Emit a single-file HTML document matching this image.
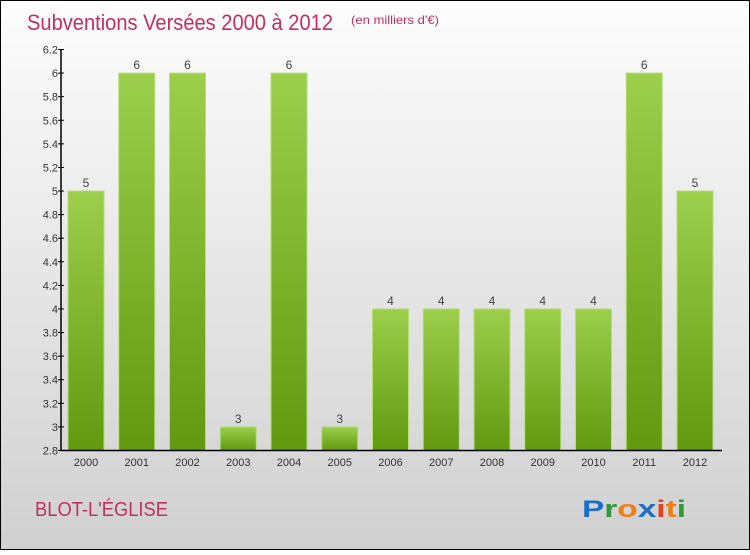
<!DOCTYPE html>
<html><head><meta charset="utf-8"><style>
body{margin:0;width:750px;height:550px;overflow:hidden;font-family:"Liberation Sans",sans-serif}
</style></head><body>
<svg width="750" height="550" xmlns="http://www.w3.org/2000/svg">
<defs>
<linearGradient id="bg" x1="0" y1="0" x2="0" y2="1"><stop offset="0" stop-color="#fdfdfd"/><stop offset="1" stop-color="#d0d0d0"/></linearGradient>
<linearGradient id="bar" x1="0" y1="0" x2="0" y2="1"><stop offset="0" stop-color="#9ccf4c"/><stop offset="1" stop-color="#62990f"/></linearGradient>
</defs>
<rect x="0.5" y="0.5" width="749" height="549" fill="url(#bg)" stroke="#000"/>
<text x="27" y="30" font-size="22" fill="#c0305e" textLength="306" lengthAdjust="spacingAndGlyphs">Subventions Versées 2000 à 2012</text>
<text x="351" y="24" font-size="12" fill="#c0305e" textLength="88" lengthAdjust="spacingAndGlyphs">(en milliers d'€)</text>
<text x="35" y="516" font-size="20" fill="#c0305e" textLength="133" lengthAdjust="spacingAndGlyphs">BLOT-L'ÉGLISE</text>
<text x="582" y="517" font-size="24" font-weight="bold" textLength="104" lengthAdjust="spacingAndGlyphs"><tspan fill="#1a6fc9">P</tspan><tspan fill="#2e9a3a">r</tspan><tspan fill="#f07f12">o</tspan><tspan fill="#1a6fc9">x</tspan><tspan fill="#e8421c">i</tspan><tspan fill="#f07f12">t</tspan><tspan fill="#2e9a3a">i</tspan></text>
<g id="plot"></g>
</svg>
<script>
const categories=["2000","2001","2002","2003","2004","2005","2006","2007","2008","2009","2010","2011","2012"];
const values=[5,6,6,3,6,3,4,4,4,4,4,6,5];
const yTicks=[2.8,3,3.2,3.4,3.6,3.8,4,4.2,4.4,4.6,4.8,5,5.2,5.4,5.6,5.8,6,6.2];
const yMin=2.8,yMax=6.2,plotTop=49.5,plotBot=450.5;
function yS(v){return plotBot-(v-yMin)/(yMax-yMin)*(plotBot-plotTop);}
function xS(i){return 86+i*50.75;}
const NS="http://www.w3.org/2000/svg",g=document.getElementById("plot");
function mk(t,a,txt){const e=document.createElementNS(NS,t);for(const k in a)e.setAttribute(k,a[k]);if(txt!==undefined)e.textContent=txt;g.appendChild(e);return e;}
values.forEach((v,i)=>{
 const r=mk("rect",{x:xS(i)-18,y:yS(v),width:36,height:plotBot-yS(v),fill:"url(#bar)",stroke:"#b5dd7a","stroke-width":1});
 
 
 const l=mk("text",{x:xS(i),y:yS(v)-4,"font-size":12,fill:"#444","text-anchor":"middle"},String(v));
 
 
 const c=mk("text",{x:xS(i),y:466,"font-size":11,fill:"#333","text-anchor":"middle"},categories[i]);
 
 
});
yTicks.forEach(t=>{
 const tk=mk("line",{x1:58,x2:64,y1:yS(t),y2:yS(t),stroke:"#000"});
 
 
 const lb=mk("text",{x:58,y:yS(t)+4,"font-size":11,fill:"#333","text-anchor":"end"},String(t));
 
 
});
const ya=mk("line",{x1:61,x2:61,y1:plotTop,y2:plotBot,stroke:"#000","stroke-width":1.5});


const xa=mk("line",{x1:61,x2:722,y1:plotBot,y2:plotBot,stroke:"#000","stroke-width":1.5});


</script>
</body></html>
